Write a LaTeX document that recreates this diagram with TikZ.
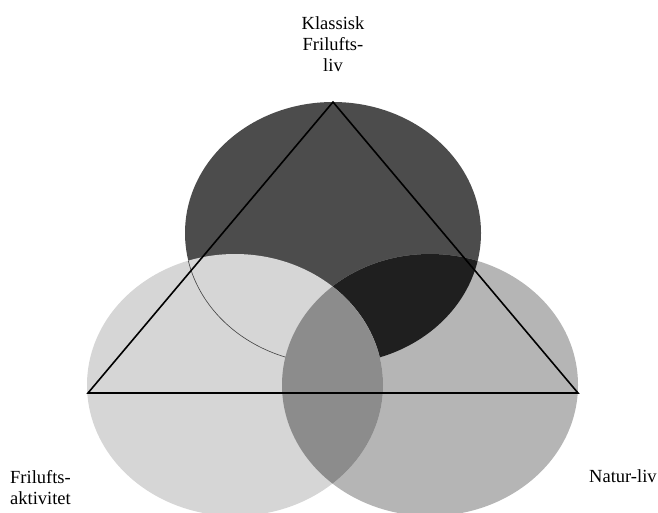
\documentclass[tikz,border=0pt]{standalone}
\usepackage{fontspec}
\setmainfont{Liberation Serif}

\definecolor{klassfill}{gray}{0.30}
\definecolor{aktivfill}{gray}{0.84}
\definecolor{naturfill}{gray}{0.71}
\definecolor{kn}{gray}{0.12}
\definecolor{an}{gray}{0.55}

\tikzset{
  ring/.style={x radius=148, y radius=131},
  tag/.style={inner sep=0pt, font=\fontsize{18.5}{21}\selectfont},
  side/.style={line width=1.6pt, line join=miter}
}

\begin{document}
\begin{tikzpicture}[x=1pt, y=-1pt]
  \useasboundingbox (0,0) rectangle (658,512);

  % Centres and corners
  \coordinate (ck) at (333,233);
  \coordinate (ca) at (235,385);
  \coordinate (cn) at (430,385);
  \coordinate (apex) at (333,102);
  \coordinate (bl) at (88,393);
  \coordinate (br) at (578,393);

  % Circles
  \fill[klassfill] (ck) ellipse [ring];
  \fill[naturfill] (cn) ellipse [ring];
  \begin{scope}
    \clip (ck) ellipse [ring];
    \fill[kn] (cn) ellipse [ring];
  \end{scope}
  \fill[aktivfill] (ca) ellipse [ring];
  \begin{scope}
    \clip (ca) ellipse [ring];
    \draw[black!75, line width=0.6pt] (ck) ellipse [ring];
    \fill[an] (cn) ellipse [ring];
  \end{scope}

  % Triangle
  \draw[side] (apex) -- (bl) -- (br) -- cycle;

  % Labels
  \node[tag, align=center] (klassisk) at (333,44) {Klassisk\\Frilufts-\\liv};
  \node[tag, align=left, anchor=west] (aktiv) at (10,488) {Frilufts-\\aktivitet};
  \node[tag, anchor=base west] (natur) at (589,482) {Natur-liv};
\end{tikzpicture}
\end{document}
